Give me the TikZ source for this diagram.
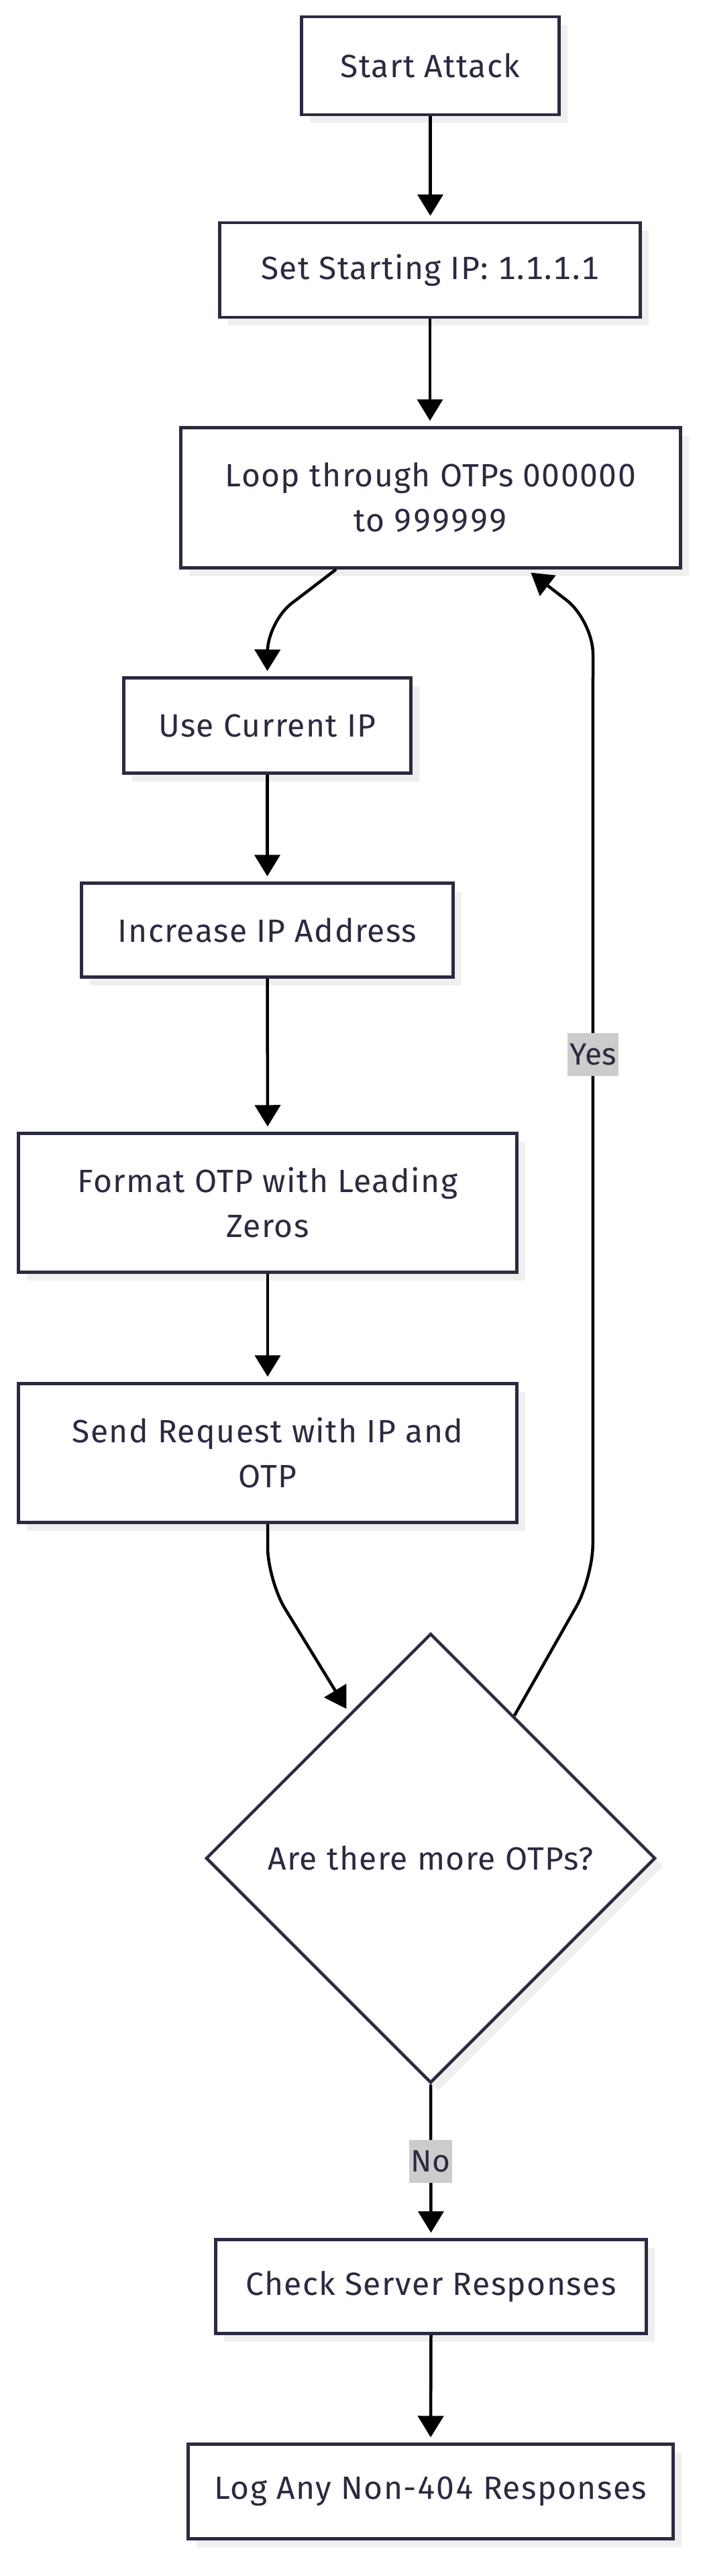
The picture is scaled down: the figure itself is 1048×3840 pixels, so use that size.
\documentclass[tikz,border=0pt]{standalone}
\usepackage{fontspec}
\setmainfont{Fira Sans}[Numbers=Monospaced]
\usetikzlibrary{arrows.meta,shapes.geometric,shadows,calc}
\definecolor{navy}{HTML}{2A2A40}
\definecolor{shadowc}{HTML}{EFEFEF}
\definecolor{lblc}{HTML}{CCCCCC}
\newfontfamily\wideff{Fira Sans}[Numbers=Monospaced, LetterSpace=3]
\begin{document}
\begin{tikzpicture}[x=1pt,y=-1pt,
  shadowed/.style={drop shadow={shadow xshift=12pt, shadow yshift=-12pt, fill=shadowc, opacity=1}},
  box/.style={draw=navy, line width=4.5pt, fill=white, text=navy, align=center, inner sep=0pt,
    font=\wideff\fontsize{48}{67}\selectfont, shadowed},
  edge/.style={draw=black, line width=4.5pt, -{Triangle[length=32pt,width=38pt]}, shorten >=8pt},
  lbl/.style={fill=lblc, text=navy, font=\fontsize{46}{67}\selectfont, inner xsep=3pt, inner ysep=0pt, minimum height=64pt}
]
\useasboundingbox[fill=white] (0,0) rectangle (1048,3840);

\node[box, minimum width=384pt, minimum height=146pt] (start) at (641.5,98) {Start Attack};
\node[box, minimum width=627pt, minimum height=141pt] (set) at (641,402.5) {Set Starting IP: 1.1.1.1};
\node[box, minimum width=745pt, minimum height=209pt] (loop) at (642,742) {Loop through OTPs 000000\\to 999999};
\node[box, minimum width=428pt, minimum height=142pt] (use) at (398.5,1081.5) {Use Current IP};
\node[box, minimum width=554pt, minimum height=140pt] (inc) at (398.5,1386.5) {Increase IP Address};
\node[box, minimum width=743pt, minimum height=207pt] (fmt) at (399,1793) {Format OTP with Leading\\Zeros};
\node[box, minimum width=743pt, minimum height=207pt] (send) at (399,2166) {Send Request with IP and\\OTP};
\node[diamond, aspect=1, draw=navy, line width=4.5pt, fill=white, text=navy, inner sep=0pt,
  minimum width=670pt, minimum height=670pt, font=\wideff\fontsize{48}{67}\selectfont, shadowed] (dia) at (642,2770) {Are there more OTPs?};
\node[box, minimum width=642pt, minimum height=140pt] (check) at (642.5,3408.5) {Check Server Responses};
\node[box, minimum width=723pt, minimum height=141pt] (log) at (642,3714) {Log Any Non-404 Responses};

\draw[edge] (start.south) -- (start.south |- set.north);
\draw[edge] (set.south) -- (set.south |- loop.north);
\draw[edge, rounded corners=45pt] ([xshift=-141pt]loop.south) -- ++(-102,78) -- (use.north);
\draw[edge] (use.south) -- (inc.north);
\draw[edge] (inc.south) -- (fmt.north);
\draw[edge] (fmt.south) -- (send.north);
\draw[edge, rounded corners=50pt] (send.south) -- ++(0,84) -- ($(dia.north)!0.36!(dia.west)$);
\draw[edge, rounded corners=50pt] ($(dia.north)!0.37!(dia.east)$) -- ++(117,-206) -- (884,925) -- ([xshift=143pt]loop.south);
\draw[edge] (dia.south) -- (check.north);
\draw[edge] (check.south) -- (log.north);

\node[lbl] (yes) at (884,1572) {Yes};
\node[lbl] (no) at (642,3222) {No};
\end{tikzpicture}
\end{document}
